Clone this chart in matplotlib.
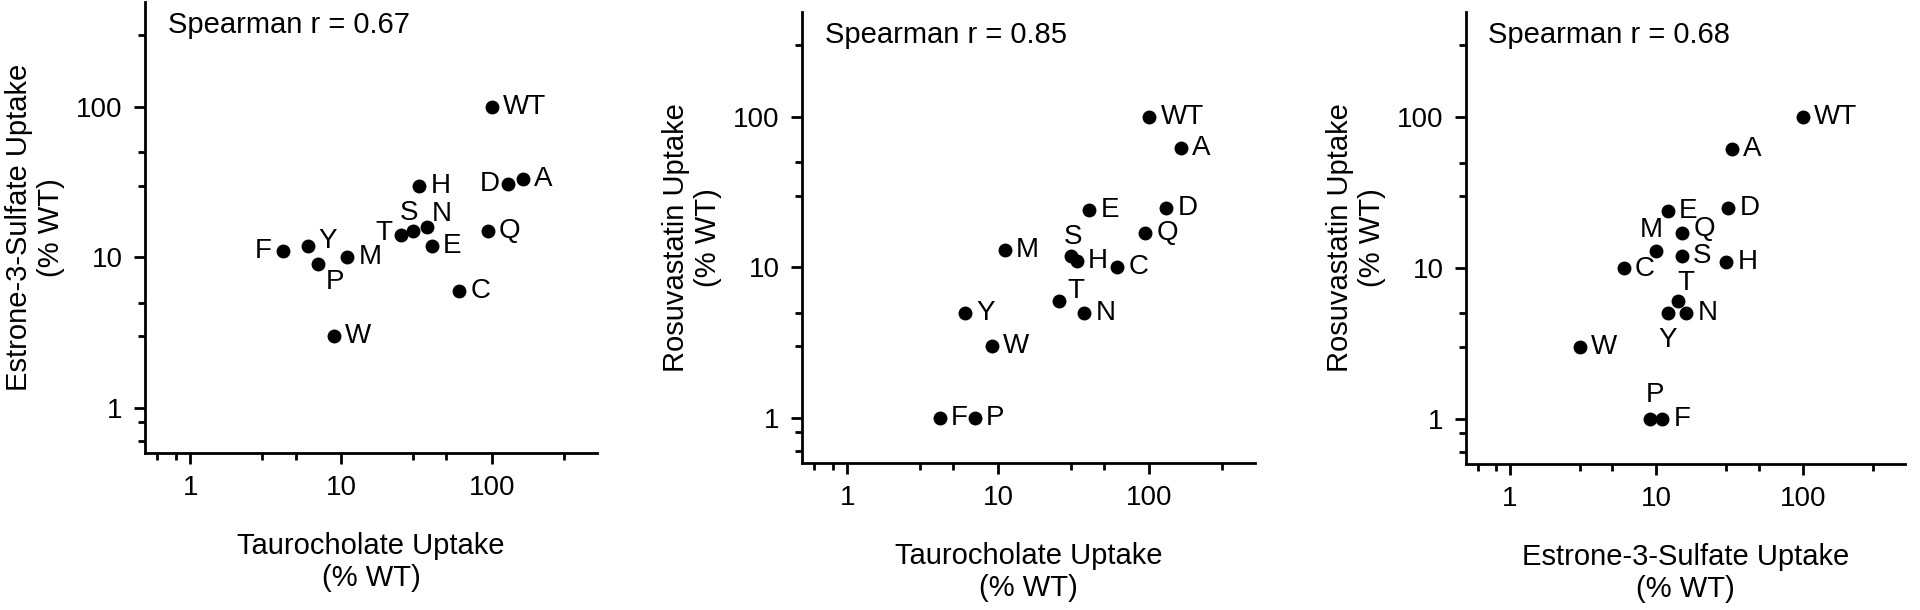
import matplotlib
matplotlib.use("Agg")
import matplotlib.pyplot as plt
from matplotlib.ticker import FixedLocator, NullFormatter

plt.rcParams['font.family'] = ['Liberation Sans', 'DejaVu Sans']

labels = ["WT", "A", "D", "H", "N", "S", "T", "E", "Q", "C", "F", "Y", "P", "M", "W"]
taurocholate = [100, 162, 129, 33, 37, 30, 25, 40, 94, 61, 4.1, 6, 7, 11, 9]
estrone = [100, 33, 31, 30, 16, 15, 14, 12, 15, 6, 11, 12, 9, 10, 3]
rosuvastatin = [100, 62, 25, 11, 5, 12, 6, 24, 17, 10, 1, 5, 1, 13, 3]
spearman = [0.67, 0.85, 0.68]

panels = [
    (taurocholate, estrone, "Taurocholate Uptake\n(% WT)", "Estrone-3-Sulfate Uptake\n(% WT)",
     {"F": (-8, 0, "right", "center"), "T": (-6, 2, "right", "center"), "S": (-3, 13, "center", "center"),
      "D": (-6, 0, "right", "center"), "P": (6, -13, "left", "center"), "Y": (8, 3, "left", "center"),
      "N": (4, 9, "left", "center")}),
    (taurocholate, rosuvastatin, "Taurocholate Uptake\n(% WT)", "Rosuvastatin Uptake\n(% WT)",
     {"S": (2, 13, "center", "center"), "T": (6, 7, "left", "center")}),
    (estrone, rosuvastatin, "Estrone-3-Sulfate Uptake\n(% WT)", "Rosuvastatin Uptake\n(% WT)",
     {"M": (-4, 15, "center", "center"), "Y": (0, -19, "center", "center"), "P": (4, 17, "center", "center"),
      "T": (6, 13, "center", "center"), "Q": (8, 3, "left", "center"), "C": (8, -1, "left", "center")}),
]

W, H = 1920, 610
rects = [(145, 2, 597, 453), (802, 12, 1255, 463), (1466, 12, 1905, 464)]

fig = plt.figure(figsize=(19.2, 6.1), dpi=100)
for i, ((xs, ys, xl, yl, offs), (l, t, r, b)) in enumerate(zip(panels, rects)):
    ax = fig.add_axes([l / W, 1 - b / H, (r - l) / W, (b - t) / H])
    ax.plot(xs, ys, 'o', color='black', ms=9, ls='none')
    for lab, x, y in zip(labels, xs, ys):
        dx, dy, ha, va = offs.get(lab, (8, 0, "left", "center"))
        ax.annotate(lab, (x, y), xytext=(dx, dy), textcoords='offset points',
                    ha=ha, va=va, fontsize=20)
    ax.set_xscale('log'); ax.set_yscale('log')
    ax.set_xlim(0.5, 500); ax.set_ylim(0.5, 500)
    ax.xaxis.set_major_locator(FixedLocator([1, 10, 100]))
    ax.yaxis.set_major_locator(FixedLocator([1, 10, 100]))
    ax.set_xticklabels(["1", "10", "100"]); ax.set_yticklabels(["1", "10", "100"])
    minors = [0.6, 0.8, 3, 5, 30, 50, 300]
    ax.xaxis.set_minor_locator(FixedLocator(minors))
    ax.yaxis.set_minor_locator(FixedLocator(minors))
    ax.xaxis.set_minor_formatter(NullFormatter()); ax.yaxis.set_minor_formatter(NullFormatter())
    for s in ['top', 'right']:
        ax.spines[s].set_visible(False)
    for s in ['left', 'bottom']:
        ax.spines[s].set_linewidth(2)
    ax.tick_params(which='major', length=8, width=2, labelsize=20, direction='out', pad=8)
    ax.tick_params(which='minor', length=5, width=2, direction='out')
    ax.set_xlabel(xl, fontsize=21, labelpad=22, linespacing=1.2)
    ax.set_ylabel(yl, fontsize=21, labelpad=8, linespacing=1.2)
    ax.text(0.05, 0.98, f"Spearman r = {spearman[i]:.2f}", transform=ax.transAxes,
            fontsize=21, ha='left', va='top')

fig.savefig("out.png", dpi=100)
